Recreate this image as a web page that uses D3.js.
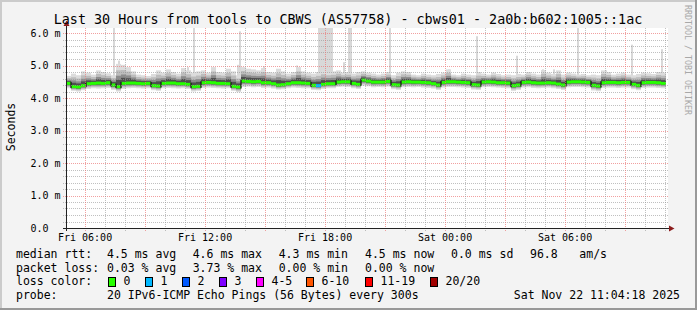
<!DOCTYPE html>
<html><head><meta charset="utf-8">
<script src="https://cdn.jsdelivr.net/npm/d3@7"></script>
<style>
html,body{margin:0;padding:0;background:#f3f3f3}
svg{display:block}
text{font-family:"DejaVu Sans Mono",monospace;fill:#000}
</style>
</head><body>
<svg id="chart" width="697" height="310"></svg>
<script>
// ---------------- DATA ----------------
const startTime = "2025-11-21T05:04:18";
const endTime   = "2025-11-22T11:04:18";
const stepMinutes = 15;

const medianRtt = [
 4.45,4.35,4.34,4.38,4.44,4.45,4.46,4.45,4.47,4.40,
 4.35,4.45,4.46,4.46,4.45,4.44,4.45,4.38,4.37,4.45,
 4.46,4.46,4.44,4.44,4.42,4.35,4.36,4.47,4.48,4.47,
 4.45,4.45,4.44,4.36,4.34,4.52,4.51,4.50,4.51,4.47,
 4.47,4.44,4.40,4.41,4.44,4.47,4.47,4.46,4.45,4.39,
 4.38,4.42,4.44,4.44,4.49,4.50,4.50,4.45,4.42,4.55,
 4.52,4.49,4.49,4.49,4.51,4.41,4.40,4.49,4.50,4.49,
 4.49,4.48,4.47,4.44,4.40,4.48,4.50,4.50,4.49,4.48,
 4.47,4.41,4.40,4.49,4.50,4.49,4.47,4.47,4.46,4.38,
 4.40,4.48,4.49,4.47,4.46,4.46,4.47,4.46,4.43,4.40,
 4.49,4.50,4.50,4.49,4.48,4.39,4.37,4.47,4.48,4.48,
 4.47,4.48,4.48,4.42,4.39,4.47,4.48,4.48,4.47,4.45
];
const smokeHigh = [
 4.68,4.75,4.70,4.82,4.78,4.72,4.85,4.80,4.76,4.70,
 5.05,5.02,4.95,4.82,4.72,4.70,4.68,4.74,4.85,4.78,
 4.88,4.80,4.75,4.92,4.85,4.78,4.82,4.85,4.78,4.95,
 4.80,4.78,4.90,4.82,4.70,4.95,4.90,4.88,4.85,4.92,
 4.80,4.78,4.90,4.82,4.75,4.80,4.95,4.82,4.78,4.75,
 4.80,4.85,4.80,4.82,4.85,4.78,4.80,4.75,4.80,4.82,
 4.78,4.75,4.72,4.75,4.80,4.70,4.78,4.82,4.80,4.72,
 4.70,4.75,4.72,4.70,4.74,4.78,4.88,4.72,4.70,4.75,
 4.72,4.70,4.80,4.75,4.72,4.78,4.74,4.70,4.72,4.70,
 4.74,4.72,4.80,4.75,4.72,4.86,4.78,4.74,4.85,4.72,
 4.78,4.75,4.72,4.74,4.70,4.72,4.70,4.85,4.80,4.72,
 4.75,4.78,4.72,4.70,4.74,4.78,4.76,4.74,4.80,4.78
];
const smokeLow = [
 4.30,4.22,4.20,4.24,4.28,4.30,4.29,4.30,4.31,4.25,
 4.20,4.28,4.30,4.31,4.30,4.29,4.30,4.24,4.22,4.30,
 4.31,4.30,4.29,4.30,4.28,4.20,4.22,4.31,4.32,4.31,
 4.30,4.29,4.30,4.22,4.18,4.34,4.35,4.33,4.34,4.31,
 4.32,4.29,4.26,4.27,4.30,4.32,4.31,4.30,4.30,4.25,
 4.24,4.28,4.30,4.30,4.34,4.35,4.34,4.30,4.28,4.38,
 4.36,4.33,4.34,4.33,4.35,4.27,4.25,4.33,4.34,4.33,
 4.34,4.32,4.31,4.29,4.25,4.32,4.34,4.34,4.33,4.32,
 4.31,4.26,4.25,4.33,4.34,4.33,4.32,4.31,4.30,4.22,
 4.25,4.32,4.33,4.31,4.30,4.31,4.32,4.30,4.28,4.25,
 4.33,4.34,4.34,4.33,4.32,4.23,4.21,4.31,4.32,4.32,
 4.31,4.32,4.32,4.27,4.24,4.31,4.32,4.32,4.31,4.30
];
// single-ping outliers (5 minute samples)
const spikeTimes = [
 "2025-11-21T07:24","2025-11-21T07:41","2025-11-21T11:06","2025-11-21T11:24",
 "2025-11-21T13:36","2025-11-21T13:42","2025-11-21T14:55","2025-11-21T16:34",
 "2025-11-21T17:40","2025-11-21T17:45","2025-11-21T17:50","2025-11-21T17:55",
 "2025-11-21T18:00","2025-11-21T18:05","2025-11-21T18:10","2025-11-21T18:15",
 "2025-11-21T18:20","2025-11-21T18:55","2025-11-21T19:10","2025-11-21T19:15",
 "2025-11-21T21:12","2025-11-22T00:10","2025-11-22T01:33","2025-11-22T03:33",
 "2025-11-22T04:51","2025-11-22T05:25","2025-11-22T06:36","2025-11-22T08:01",
 "2025-11-22T09:18","2025-11-22T10:48"
];
const spikeValues = [
 6.3,5.15,4.95,6.3,
 5.02,6.05,4.98,5.0,
 6.3,6.3,6.3,6.3,
 6.3,6.3,6.3,6.3,
 6.3,5.1,6.3,6.3,
 6.15,4.88,5.9,5.3,
 4.88,4.88,6.15,4.85,
 5.64,5.5
];
const lossTimes  = ["2025-11-21T17:49"];
const lossPings  = [1];

const yTickValues = [0,1,2,3,4,5,6];
const yTickLabels = ["0.0","1.0 m","2.0 m","3.0 m","4.0 m","5.0 m","6.0 m"];
const xTickTimes  = ["2025-11-21T06:00","2025-11-21T12:00","2025-11-21T18:00","2025-11-22T00:00","2025-11-22T06:00"];
const xTickLabels = ["Fri 06:00","Fri 12:00","Fri 18:00","Sat 00:00","Sat 06:00"];

const lossLabels = ["0","1","2","3","4-5","6-10","11-19","20/20"];
const lossColors = ["#26ff00","#00b8ff","#0059ff","#7e00ff","#ff00ff","#ff5500","#ff0000","#a10000"];
const lossLimits = [0,1,2,3,5,10,19,20];

const rttStats   = ["4.5 ms avg","4.6 ms max","4.3 ms min","4.5 ms now","0.0 ms sd","96.8","am/s"];
const lossStats  = ["0.03 % avg","3.73 % max","0.00 % min","0.00 % now"];
const titleText  = "Last 30 Hours from tools to CBWS (AS57758) - cbws01 - 2a0b:b602:1005::1ac";
const probeText  = "20 IPv6-ICMP Echo Pings (56 Bytes) every 300s";
const stampText  = "Sat Nov 22 11:04:18 2025";

// ---------------- DRAW ----------------
const parse = d3.timeParse("%Y-%m-%dT%H:%M:%S");
const parseM = d3.timeParse("%Y-%m-%dT%H:%M");
const t0 = parse(startTime), t1 = parse(endTime);
const W = 697, H = 310;
const L = 66, R = 666, TOP = 28, BOT = 228;

const svg = d3.select("#chart");
const x = d3.scaleTime().domain([t0,t1]).range([L,R]);
const y = d3.scaleLinear().domain([0, 200/32.5]).range([BOT,TOP]);

// background & 3D border
svg.append("rect").attr("width",W).attr("height",H).attr("fill","#f3f3f3");
svg.append("rect").attr("x",0).attr("y",0).attr("width",W).attr("height",2).attr("fill","#cbcbcb");
svg.append("rect").attr("x",0).attr("y",0).attr("width",2).attr("height",H).attr("fill","#cbcbcb");
svg.append("rect").attr("x",0).attr("y",H-2).attr("width",W).attr("height",2).attr("fill","#999999");
svg.append("rect").attr("x",W-2).attr("y",0).attr("width",2).attr("height",H).attr("fill","#999999");

// canvas
svg.append("rect").attr("x",L).attr("y",TOP).attr("width",602).attr("height",BOT-TOP).attr("fill","#ffffff");

svg.append("defs").append("clipPath").attr("id","plotclip")
  .append("rect").attr("x",L).attr("y",TOP).attr("width",R-L).attr("height",BOT-TOP);

const plot = svg.append("g").attr("clip-path","url(#plotclip)");

const steps = medianRtt.map((m,i)=>{
  const a = d3.timeMinute.offset(t0, i*stepMinutes);
  const b = d3.timeMinute.offset(t0, (i+1)*stepMinutes);
  return {a,b,med:m,hi:smokeHigh[i],lo:smokeLow[i],loss:0};
});
lossTimes.forEach((s,k)=>{
  const t = parseM(s);
  steps.forEach(st=>{ if (t>=st.a && t<st.b) st.loss = lossPings[k]; });
});

// spikes
const spikes = spikeTimes.map((s,i)=>({t:parseM(s), v:spikeValues[i]}));
plot.selectAll("rect.spike").data(spikes).enter().append("rect")
  .attr("x",d=>Math.round(x(d.t)))
  .attr("width",2)
  .attr("y",d=>y(d.v))
  .attr("height",d=>y(4.45)-y(d.v))
  .attr("fill","#d8d8d8");

// smoke layers
const layers = [
  {f:1.00, c:"#dcdcdc"},
  {f:0.72, c:"#bcbcbc"},
  {f:0.48, c:"#8c8c8c"},
  {f:0.30, c:"#4e4e4e"}
];
layers.forEach(Ly=>{
  plot.append("g").selectAll("rect").data(steps).enter().append("rect")
    .attr("x",d=>x(d.a))
    .attr("width",d=>x(d.b)-x(d.a)+0.05)
    .attr("y",d=>y(d.med + Ly.f*(d.hi-d.med)))
    .attr("height",d=>y(d.med - Ly.f*(d.med-d.lo)) - y(d.med + Ly.f*(d.hi-d.med)))
    .attr("fill",Ly.c);
});

// grid
const gridG = svg.append("g").attr("shape-rendering","crispEdges");
const minorC = "rgba(150,150,150,0.6)", majorC = "rgba(235,120,120,0.7)";
d3.range(1,31).map(k=>k/5).forEach(v=>{
  const isMajor = Math.abs(v-Math.round(v))<1e-6;
  const yy = Math.round(y(v))+0.5;
  gridG.append("line").attr("x1",63).attr("x2",668).attr("y1",yy).attr("y2",yy)
    .attr("stroke",isMajor?majorC:minorC).attr("stroke-dasharray","1,1");
});
d3.timeHour.range(d3.timeHour.ceil(t0), t1).forEach(h=>{
  const isMajor = h.getHours()%3===0;
  const xx = Math.round(x(h))+0.5;
  gridG.append("line").attr("x1",xx).attr("x2",xx).attr("y1",TOP).attr("y2",BOT+3)
    .attr("stroke",isMajor?majorC:minorC).attr("stroke-dasharray","1,1");
});

// median: loss-coloured band, dark connectors at level changes
function lossColor(n){ for (let k=0;k<lossLimits.length;k++){ if(n<=lossLimits[k]) return lossColors[k]; } return lossColors[lossColors.length-1]; }
plot.append("g").selectAll("rect").data(steps).enter().append("rect")
  .attr("x",d=>x(d.a))
  .attr("width",d=>x(d.b)-x(d.a)+0.05)
  .attr("y",d=>y(d.med)-1.5)
  .attr("height",3)
  .attr("fill",d=>lossColor(d.loss));
const jumps = steps.slice(1).map((s,i)=>({t:s.a, from:steps[i].med, to:s.med}))
  .filter(j=>Math.abs(y(j.from)-y(j.to))>=1.5);
plot.append("g").selectAll("rect").data(jumps).enter().append("rect")
  .attr("x",d=>x(d.t)-0.6)
  .attr("width",1.2)
  .attr("y",d=>Math.min(y(d.from),y(d.to))-1.5)
  .attr("height",d=>Math.abs(y(d.from)-y(d.to))+3)
  .attr("fill","#141414");

// axes lines & arrows
svg.append("line").attr("x1",L+0.5).attr("x2",L+0.5).attr("y1",BOT+3).attr("y2",25)
  .attr("stroke","#222").attr("shape-rendering","crispEdges");
svg.append("line").attr("x1",L-3).attr("x2",670).attr("y1",BOT+0.5).attr("y2",BOT+0.5)
  .attr("stroke","#222").attr("shape-rendering","crispEdges");
svg.append("path").attr("d",`M${L-2.5},26 L${L+3.5},26 L${L+0.5},20.5 Z`).attr("fill","#8b1c1c");
svg.append("path").attr("d",`M669,${BOT-2.5} L669,${BOT+3.5} L674.5,${BOT+0.5} Z`).attr("fill","#8b1c1c");

// y labels via axis
const yAxis = d3.axisLeft(y).tickValues(yTickValues).tickFormat((d,i)=>yTickLabels[i]).tickSize(0).tickPadding(0);
const yg = svg.append("g").attr("transform",`translate(${L},0)`).call(yAxis);
yg.select(".domain").remove();
yg.selectAll("text").attr("text-anchor","start").attr("x",30.5-L).attr("dy","0.34em")
  .style("font-family","DejaVu Sans Mono").style("font-size","10px").attr("fill","#000");

// x labels via axis
const xAxis = d3.axisBottom(x).tickValues(xTickTimes.map(parseM)).tickFormat((d,i)=>xTickLabels[i]).tickSize(0).tickPadding(0);
const xg = svg.append("g").attr("transform",`translate(0,${BOT})`).call(xAxis);
xg.select(".domain").remove();
xg.selectAll("text").attr("y",13).attr("dy","0")
  .style("font-family","DejaVu Sans Mono").style("font-size","10px").attr("fill","#000");

// title
svg.append("text").attr("x",348).attr("y",24).attr("text-anchor","middle")
  .style("font-size","13.4px").text(titleText);

// y unit
svg.append("text").attr("transform","translate(15,127) rotate(-90)").attr("text-anchor","middle")
  .style("font-size","11.5px").text("Seconds");

// watermark
svg.append("text").attr("transform","translate(685,5) rotate(90)").attr("text-anchor","start")
  .style("font-size","8.3px").style("fill","#a8a8a8").text("RRDTOOL / TOBI OETIKER");

// legend
const LF = "11.5px";
const rows = [258, 271.7, 285.4, 299];
const statX = [107, 192.7, 278.7, 365, 451, 530, 579.3];
function lt(xx,yy,s){ return svg.append("text").attr("x",xx).attr("y",yy).style("font-size",LF).text(s); }
lt(16,rows[0],"median rtt:");
rttStats.forEach((s,i)=>lt(statX[i],rows[0],s));
lt(16,rows[1],"packet loss:");
lossStats.forEach((s,i)=>lt(statX[i],rows[1],s));
lt(16,rows[2],"loss color:");
const boxX = [108.5,145.5,182.5,219.5,256.5,306.5,365.5,430.5];
lossLabels.forEach((s,i)=>{
  svg.append("rect").attr("x",boxX[i]).attr("y",277.5).attr("width",7).attr("height",9)
    .attr("fill",lossColors[i]).attr("stroke","#000").attr("stroke-width",1).attr("shape-rendering","crispEdges");
  lt(boxX[i]+15,rows[2],s);
});
lt(16,rows[3],"probe:");
lt(107,rows[3],probeText);
svg.append("text").attr("x",680).attr("y",rows[3]).attr("text-anchor","end").style("font-size",LF).text(stampText);
</script>
</body></html>
